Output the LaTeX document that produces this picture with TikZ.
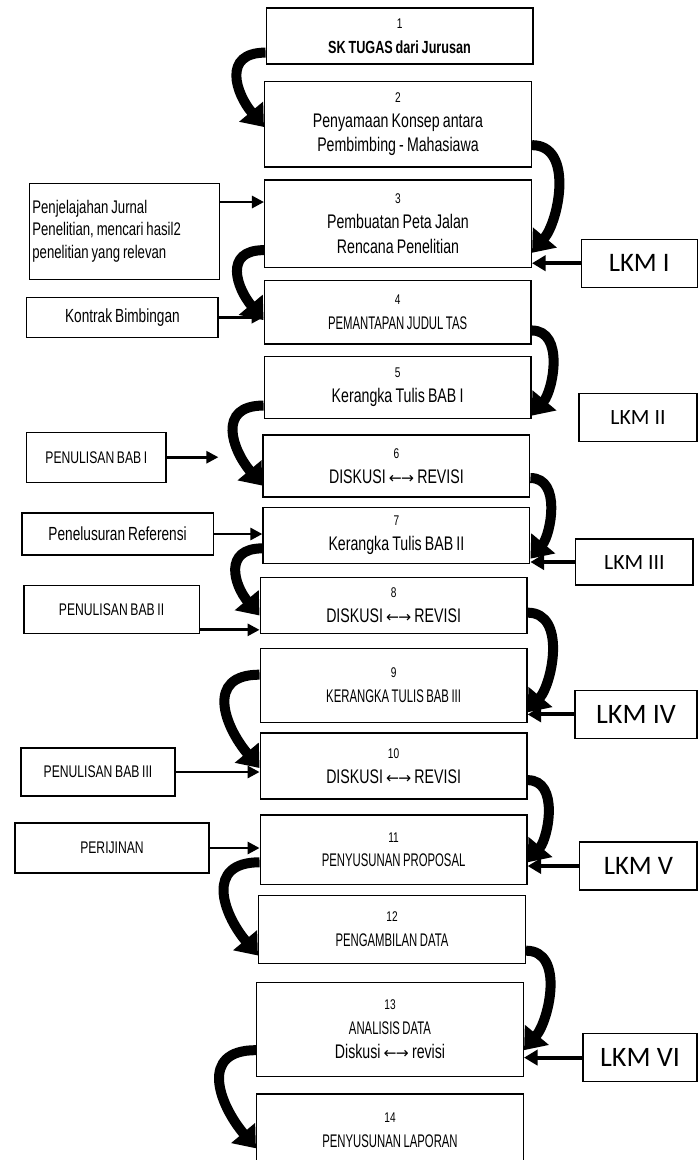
\documentclass[tikz,border=0pt]{standalone}
\usepackage{fontspec}
\setmainfont{Liberation Sans}
\newfontfamily\narrowfont[FakeStretch=0.72,WordSpace=0.8]{Liberation Sans}
\newfontfamily\capsfont[FakeStretch=0.62,WordSpace=0.8]{Liberation Sans}
\newfontfamily\lkmfont{Carlito}
\newfontfamily\arrowfont{DejaVu Sans}
\usetikzlibrary{arrows.meta,calc}
\newcommand\numline[1]{{\fontsize{10}{17}\selectfont #1}}
\newcommand\capline[1]{{\capsfont\fontsize{13}{17}\selectfont #1}}
\newcommand\bothways{{\arrowfont\fontsize{11}{17}\selectfont ←\kern-0.5pt→}}
\tikzset{
  flow box/.style={
    draw,
    line width=0.9pt,
    align=center,
    minimum width=6.67cm,
    inner sep=2pt,
    font=\narrowfont\fontsize{14}{17.5}\selectfont,
  },
  side box/.style={
    draw,
    line width=0.9pt,
    align=center,
    inner sep=2pt,
    font=\narrowfont\fontsize{13.5}{16}\selectfont,
  },
  side caps/.style={font=\narrowfont\fontsize{12}{14}\selectfont},
  lkm box/.style={
    draw,
    line width=0.9pt,
    minimum height=1.2cm,
    inner sep=2pt,
  },
  side arrow/.style={
    -{Triangle[length=3mm,width=3mm]},
    line width=2pt,
  },
  lkm arrow/.style={
    -{Triangle[length=3.4mm,width=3.8mm]},
    line width=2.8pt,
  },
  swoosh/.style={
    -{Triangle[length=5mm,width=7.5mm]},
    line width=2.5mm,
  },
}
\begin{document}
\begin{tikzpicture}[x=1cm,y=1cm]
  \useasboundingbox (0,0) rectangle (17.475,-29);

  % main column
  \node[flow box, minimum height=1.40cm] (b1) at (9.99,-0.90)
    {\numline{1}\\\textbf{\fontsize{12.5}{17}\selectfont SK TUGAS dari Jurusan}};
  \node[flow box, minimum height=2.13cm] (b2) at (9.95,-3.11)
    {\numline{2}\\Penyamaan Konsep antara\\Pembimbing - Mahasiawa};
  \node[flow box, minimum height=2.18cm] (b3) at (9.95,-5.59)
    {\numline{3}\\Pembuatan Peta Jalan\\Rencana Penelitian};
  \node[flow box, minimum height=1.58cm] (b4) at (9.94,-7.81)
    {\numline{4}\\\capline{PEMANTAPAN JUDUL TAS}};
  \node[flow box, minimum height=1.55cm] (b5) at (9.94,-9.68)
    {\numline{5}\\Kerangka Tulis BAB I};
  \node[flow box, minimum height=1.55cm] (b6) at (9.91,-11.65)
    {\numline{6}\\DISKUSI \bothways{} REVISI};
  \node[flow box, minimum height=1.40cm] (b7) at (9.91,-13.38)
    {\numline{7}\\Kerangka Tulis BAB II};
  \node[flow box, minimum height=1.40cm] (b8) at (9.84,-15.13)
    {\numline{8}\\DISKUSI \bothways{} REVISI};
  \node[flow box, minimum height=1.85cm] (b9) at (9.84,-17.13)
    {\numline{9}\\\capline{KERANGKA TULIS BAB III}};
  \node[flow box, minimum height=1.65cm] (b10) at (9.84,-19.15)
    {\numline{10}\\DISKUSI \bothways{} REVISI};
  \node[flow box, minimum height=1.73cm] (b11) at (9.84,-21.24)
    {\numline{11}\\\capline{PENYUSUNAN PROPOSAL}};
  \node[flow box, minimum height=1.70cm] (b12) at (9.80,-23.23)
    {\numline{12}\\\capline{PENGAMBILAN DATA}};
  \node[flow box, minimum height=2.35cm] (b13) at (9.75,-25.73)
    {\numline{13}\\\capline{ANALISIS DATA}\\Diskusi \bothways{} revisi};
  \node[flow box, minimum height=1.80cm] (b14) at (9.75,-28.25)
    {\numline{14}\\\capline{PENYUSUNAN LAPORAN}};

  % inputs on the left
  \node[side box, align=flush left, text width=4.6cm, minimum height=2.4cm,
    font=\narrowfont\fontsize{13}{16}\selectfont] (jurnal) at (3.11,-5.78)
    {Penjelajahan Jurnal\\Penelitian, mencari hasil2\\penelitian yang relevan};
  \node[side box, minimum width=4.78cm, minimum height=1cm] (kontrak) at (3.06,-7.93)
    {Kontrak Bimbingan};
  \node[side box, side caps, minimum width=3.48cm, minimum height=1.25cm] (pbab1) at (2.41,-11.43)
    {PENULISAN BAB I};
  \node[side box, minimum width=4.78cm, minimum height=1.05cm] (referensi) at (2.94,-13.35)
    {Penelusuran Referensi};
  \node[side box, side caps, minimum width=4.38cm, minimum height=1.2cm] (pbab2) at (2.79,-15.23)
    {PENULISAN BAB II};
  \node[side box, side caps, minimum width=3.85cm, minimum height=1.2cm] (pbab3) at (2.45,-19.30)
    {PENULISAN BAB III};
  \node[side box, side caps, minimum width=4.85cm, minimum height=1.25cm] (izin) at (2.80,-21.20)
    {PERIJINAN};

  % LKM on the right
  \node[lkm box, minimum width=2.90cm, font=\lkmfont\fontsize{19}{22}\selectfont] (lkm1) at (15.98,-6.58) {LKM I};
  \node[lkm box, minimum width=2.95cm, font=\lkmfont\fontsize{15.5}{18}\selectfont] (lkm2) at (15.95,-10.44) {LKM II};
  \node[lkm box, minimum width=2.93cm, minimum height=1.15cm, font=\lkmfont\fontsize{15.5}{18}\selectfont] (lkm3) at (15.86,-14.05) {LKM III};
  \node[lkm box, minimum width=3.05cm, font=\lkmfont\fontsize{20}{24}\selectfont] (lkm4) at (15.90,-17.86) {LKM IV};
  \node[lkm box, minimum width=2.93cm, font=\lkmfont\fontsize{19}{22}\selectfont] (lkm5) at (15.96,-21.65) {LKM V};
  \node[lkm box, minimum width=2.85cm, font=\lkmfont\fontsize{20}{24}\selectfont] (lkm6) at (16.00,-26.44) {LKM VI};

  % straight arrows
  \coordinate (jurnal out) at ($(jurnal.north east)!0.2!(jurnal.south east)$);
  \coordinate (pbab2 out) at ($(pbab2.south east)+(0,0.1)$);
  \draw[side arrow] (jurnal out) -- (jurnal out -| b3.west);
  \draw[side arrow] (kontrak.east) -- (kontrak.east -| b4.west);
  \draw[side arrow, shorten >=1.1cm] (pbab1.east) -- (pbab1.east -| b6.west);
  \draw[side arrow] (referensi.east) -- (referensi.east -| b7.west);
  \draw[side arrow] (pbab2 out) -- (pbab2 out -| b8.west);
  \draw[side arrow] (pbab3.east) -- (pbab3.east -| b10.west);
  \draw[side arrow] (izin.east) -- (izin.east -| b11.west);
  \foreach \l/\b in {lkm1/b3, lkm3/b7, lkm4/b9, lkm5/b11, lkm6/b13}
    \draw[lkm arrow] (\l.west) -- (\l.west -| \b.east);

  % curved arrows between steps
  \foreach \a/\b/\p/\q in {b1/b2/0.79/0.53, b3/b4/0.80/0.62, b5/b6/0.79/0.81, b7/b8/0.73/0.68,
      b9/b10/0.36/0.53, b11/b12/0.68/0.88, b13/b14/0.72/0.75}
    \draw[swoosh] ($(\a.north west)!\p!(\a.south west)$) to[out=180, in=130, looseness=1.5]
      ($(\b.north west)!\q!(\b.south west)$);
  \foreach \a/\b/\p/\q in {b2/b3/0.74/0.83, b4/b5/0.78/0.95, b6/b7/0.69/0.91, b8/b9/0.63/0.86,
      b10/b11/0.71/0.68, b12/b13/0.81/0.72}
    \draw[swoosh] ($(\a.north east)!\p!(\a.south east)$) to[out=0, in=50, looseness=1]
      ($(\b.north east)!\q!(\b.south east)$);
\end{tikzpicture}
\end{document}
